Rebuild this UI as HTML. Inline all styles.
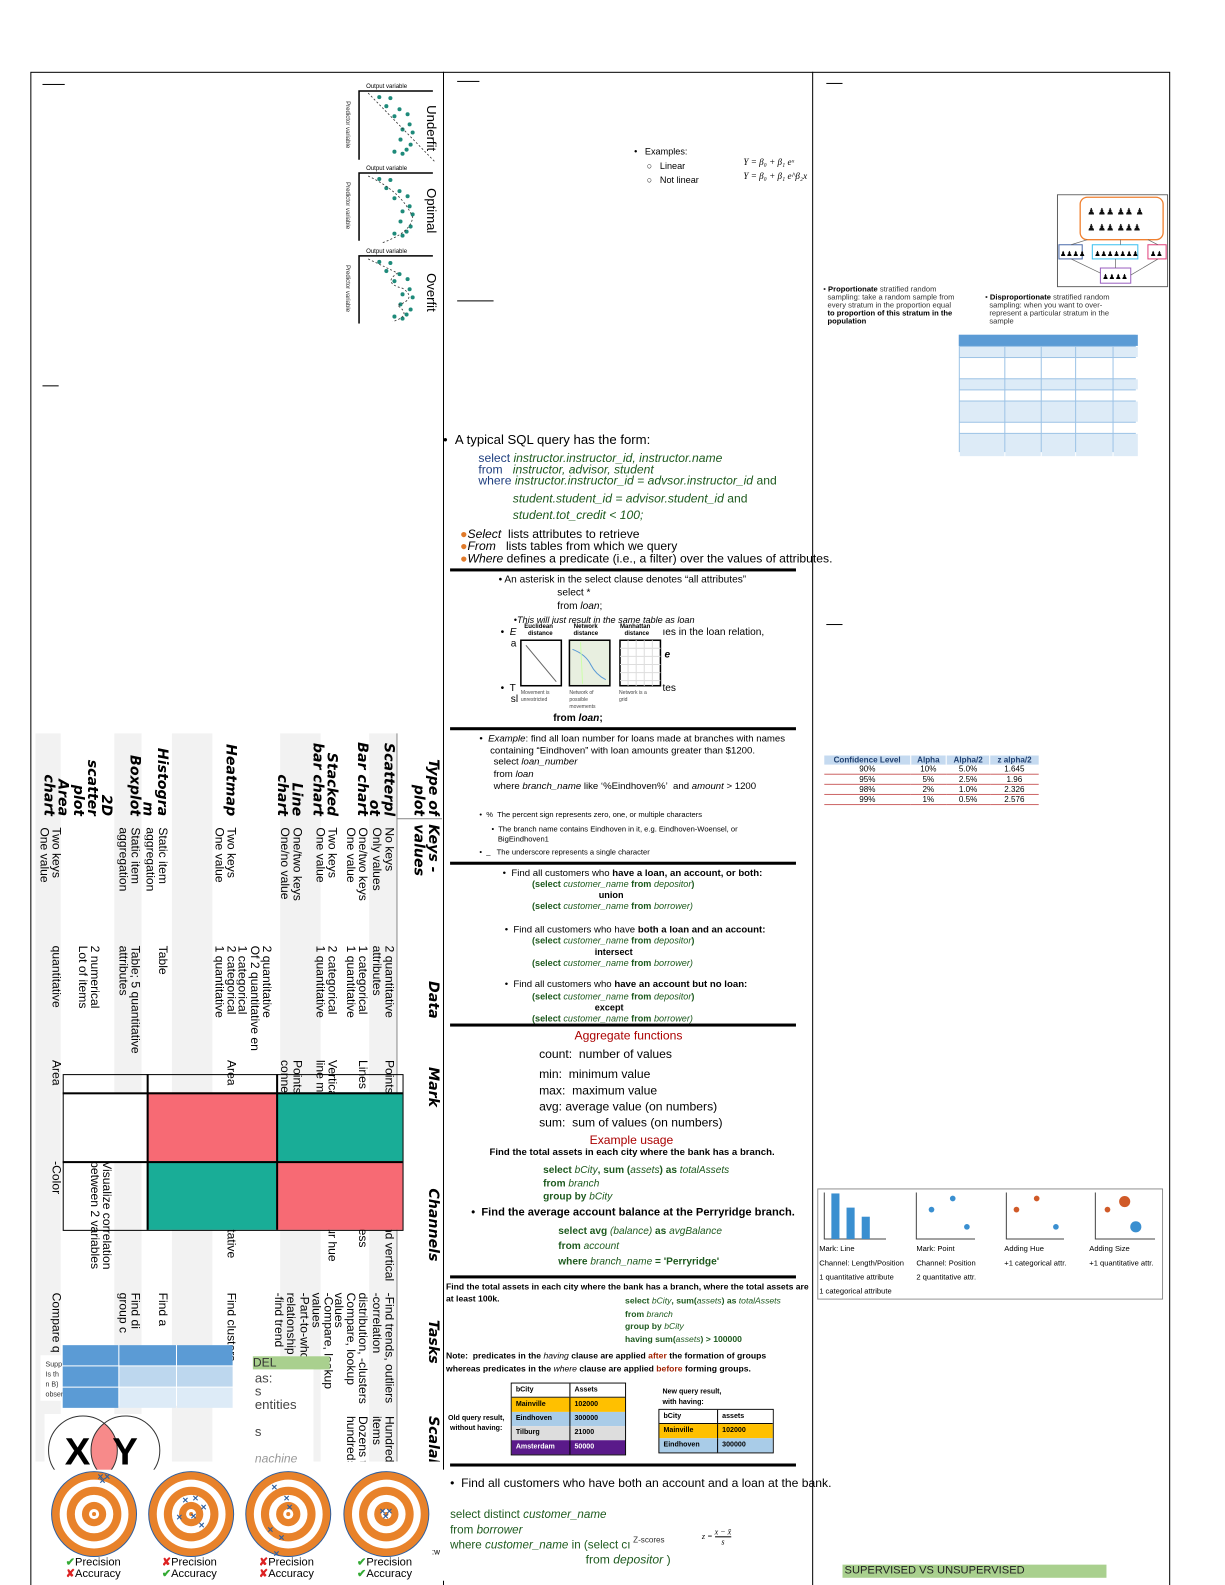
<!DOCTYPE html>
<html><head><meta charset="utf-8">
<style>
*{margin:0;padding:0;box-sizing:border-box}
html,body{margin:0;padding:0;background:#fff}
#o{position:relative;width:1225px;height:1585px;overflow:hidden;background:#fff}
#w{position:absolute;left:0;top:0;width:1225px;height:1585px;transform:scale(1.0114);transform-origin:0 0;background:#fff;font-family:"Liberation Sans",Arial,sans-serif;color:#000}
.a{position:absolute;white-space:nowrap}
.hl{position:absolute;background:#000;height:3px}
.g{color:#1e5a1e}
.b{color:#1f3f7f}
#rt{position:absolute;left:437px;top:725px;width:720px;height:402px;transform-origin:0 0;transform:rotate(90deg);overflow:hidden;font-family:"Liberation Sans Narrow","Liberation Sans",sans-serif;font-size:12px;line-height:12px}
#rt div{position:absolute;white-space:nowrap;overflow:hidden}
#rt .st{left:0;width:720px;background:#f2f2f2}
#rt .h{font-family:"DejaVu Sans",sans-serif;font-weight:bold;font-style:italic;font-size:14px;line-height:14px;text-align:right;left:0;width:82px}
#rt .hd{font-family:"DejaVu Sans",sans-serif;font-weight:bold;font-style:italic;font-size:14px;line-height:14px;top:2px}
.ctab{position:absolute;border-collapse:collapse;font-size:8px;line-height:9px;text-align:center}
.ctab td{border-bottom:1px solid #c66;padding:0 4px}
</style></head><body><div id="o"><div id="w">

<div style="position:absolute;left:30px;top:71px;width:1127px;height:1498px;border:1px solid #000"></div>
<div style="position:absolute;left:438px;top:71px;width:1px;height:1498px;background:#000"></div>
<div style="position:absolute;left:803px;top:71px;width:1px;height:1498px;background:#000"></div>

<div class="a" style="left:42px;top:83px;width:22px;height:1px;background:#000"></div>
<div class="a" style="left:42px;top:381px;width:16px;height:1px;background:#000"></div>
<div class="a" style="left:452px;top:80px;width:22px;height:1px;background:#000"></div>
<div class="a" style="left:452px;top:297px;width:36px;height:1px;background:#000"></div>
<div class="a" style="left:817px;top:82px;width:16px;height:1px;background:#000"></div>
<div class="a" style="left:817px;top:617px;width:16px;height:1px;background:#000"></div>

<svg class="a" style="left:338px;top:80px" width="100" height="240" viewBox="0 0 100 240" font-family="Liberation Sans" >
 <g font-size="6">
  <text x="24" y="7">Output variable</text>
  <text x="24" y="88">Output variable</text>
  <text x="24" y="170">Output variable</text>
 </g>
 <g stroke="#000" stroke-width="1.5" fill="none">
  <path d="M90 10 H17 V78"/><path d="M90 91 H17 V158"/><path d="M90 173 H17 V240"/>
 </g>
 <g font-size="6" fill="#333"><text transform="translate(4,20) rotate(90)">Predictor variable</text>
 <text transform="translate(4,100) rotate(90)">Predictor variable</text>
 <text transform="translate(4,182) rotate(90)">Predictor variable</text></g>
 <g fill="#1e8a7a">
  <circle cx="37" cy="16" r="2"/><circle cx="48" cy="17" r="2"/><circle cx="44" cy="25" r="2"/><circle cx="57" cy="28" r="2"/><circle cx="52" cy="35" r="2"/><circle cx="65" cy="33" r="2"/><circle cx="67" cy="43" r="2"/><circle cx="60" cy="48" r="2"/><circle cx="70" cy="51" r="2"/><circle cx="58" cy="58" r="2"/><circle cx="68" cy="63" r="2"/><circle cx="52" cy="70" r="2"/><circle cx="60" cy="72" r="2"/><circle cx="64" cy="68" r="2"/>
  <circle cx="37" cy="97" r="2"/><circle cx="48" cy="98" r="2"/><circle cx="44" cy="106" r="2"/><circle cx="57" cy="109" r="2"/><circle cx="52" cy="116" r="2"/><circle cx="65" cy="114" r="2"/><circle cx="67" cy="124" r="2"/><circle cx="60" cy="129" r="2"/><circle cx="70" cy="132" r="2"/><circle cx="58" cy="139" r="2"/><circle cx="68" cy="144" r="2"/><circle cx="52" cy="151" r="2"/><circle cx="60" cy="153" r="2"/><circle cx="64" cy="149" r="2"/>
  <circle cx="37" cy="179" r="2"/><circle cx="48" cy="180" r="2"/><circle cx="44" cy="188" r="2"/><circle cx="57" cy="191" r="2"/><circle cx="52" cy="198" r="2"/><circle cx="65" cy="196" r="2"/><circle cx="67" cy="206" r="2"/><circle cx="60" cy="211" r="2"/><circle cx="70" cy="214" r="2"/><circle cx="58" cy="221" r="2"/><circle cx="68" cy="226" r="2"/><circle cx="52" cy="233" r="2"/><circle cx="60" cy="235" r="2"/><circle cx="64" cy="231" r="2"/>
 </g>
 <g stroke="#333" stroke-dasharray="2,2" fill="none" stroke-width="0.8">
  <path d="M26 12 L92 80"/>
  <path d="M26 94 Q60 110 70 135 Q68 150 40 160"/>
  <path d="M26 176 Q45 185 55 190 Q40 200 60 205 Q75 215 55 222 Q70 232 50 238"/>
 </g>
 <g font-size="13"><text transform="translate(84,24) rotate(90)">Underfit</text>
 <text transform="translate(84,106) rotate(90)">Optimal</text>
 <text transform="translate(84,190) rotate(90)">Overfit</text></g>
</svg>

<div id="rt">
 <div class="st" style="top:45px;height:27px"></div>
 <div class="st" style="top:120px;height:40px"></div>
 <div class="st" style="top:227px;height:40px"></div>
 <div class="st" style="top:297px;height:27px"></div>
 <div class="st" style="top:377px;height:25px"></div>
 <div style="left:0;top:44px;width:720px;height:1px;background:#888"></div>
 <div style="left:84px;top:0;width:1px;height:45px;background:#888"></div>

 <div class="hd" style="left:0;width:82px;text-align:right">Type of<br>plot</div>
 <div class="hd" style="left:90px">Keys -<br>values</div>
 <div class="hd" style="left:245px">Data</div>
 <div class="hd" style="left:330px">Mark</div>
 <div class="hd" style="left:450px">Channels</div>
 <div class="hd" style="left:580px">Tasks</div>
 <div class="hd" style="left:675px">Scalability</div>

 <div class="h" style="top:46px">Scatterpl<br>ot</div>
 <div style="left:93px;top:46px">No keys<br>Only values</div>
 <div style="left:210px;top:46px">2 quantitative<br>attributes</div>
 <div style="left:323px;top:46px">Points</div>
 <div style="left:423px;top:46px">Horizontal and vertical</div>
 <div style="left:553px;top:46px">-Find trends, outliers<br>-correlation</div>
 <div style="left:675px;top:46px">Hundreds<br>items</div>

 <div class="h" style="top:72px">Bar chart</div>
 <div style="left:93px;top:72px">One/two keys<br>One value</div>
 <div style="left:210px;top:72px">1 categorical<br>1 quantitative</div>
 <div style="left:323px;top:72px">Lines</div>
 <div style="left:423px;top:72px">Length, express</div>
 <div style="left:553px;top:72px">distribution, -clusters<br>Compare, lookup<br>values</div>
 <div style="left:675px;top:72px">Dozens to<br>hundreds</div>

 <div class="h" style="top:102px">Stacked<br>bar chart</div>
 <div style="left:93px;top:102px">Two keys<br>One value</div>
 <div style="left:210px;top:102px">2 categorical<br>1 quantitative</div>
 <div style="left:323px;top:102px">Vertical<br>line marks</div>
 <div style="left:423px;top:102px">Length, colour hue<br>values</div>
 <div style="left:553px;top:106px">-Compare, lookup<br>values<br>-Part-to-whole</div>

 <div class="h" style="top:137px">Line<br>chart</div>
 <div style="left:93px;top:137px">One/two keys<br>One/no value</div>
 <div style="left:210px;top:167px">2 quantitative<br>Of 2 quantitative en<br>1 categorical</div>
 <div style="left:323px;top:137px">Points<br>connected</div>
 <div style="left:423px;top:137px">Positions<br>ordered</div>
 <div style="left:553px;top:143px">relationship<br>-find trend</div>

 <div class="h" style="top:202px">Heatmap</div>
 <div style="left:93px;top:202px">Two keys<br>One value</div>
 <div style="left:210px;top:202px">2 categorical<br>1 quantitative</div>
 <div style="left:323px;top:202px">Area</div>
 <div style="left:423px;top:202px">Color, quantitative</div>
 <div style="left:553px;top:202px">Find clusters</div>

 <div class="h" style="top:270px">Histogra<br>m</div>
 <div style="left:93px;top:270px">Static item<br>aggregation</div>
 <div style="left:210px;top:270px">Table</div>
 <div style="left:553px;top:270px">Find a</div>

 <div class="h" style="top:297px">Boxplot</div>
 <div style="left:93px;top:297px">Static item<br>aggregation</div>
 <div style="left:210px;top:297px">Table; 5 quantitative<br>attributes</div>
 <div style="left:553px;top:297px">Find di<br>group c</div>

 <div class="h" style="top:325px">2D<br>scatter<br>plot</div>
 <div style="left:210px;top:325px"><br>2 numerical<br>Lot of items</div>
 <div style="left:423px;top:325px">Visualize correlation<br>between 2 variables</div>

 <div class="h" style="top:368px">Area<br>chart</div>
 <div style="left:93px;top:375px">Two keys<br>One value</div>
 <div style="left:210px;top:375px">quantitative</div>
 <div style="left:323px;top:375px">Area</div>
 <div style="left:423px;top:375px">-Color</div>
 <div style="left:553px;top:375px">Compare q</div>
</div>

<div class="a" style="left:62px;top:1080px;width:83px;height:68px;background:#fff"></div>
<div class="a" style="left:145px;top:1080px;width:128px;height:68px;background:#f76a74"></div>
<div class="a" style="left:273px;top:1080px;width:125px;height:68px;background:#19ad97"></div>
<div class="a" style="left:145px;top:1148px;width:128px;height:68px;background:#19ad97"></div>
<div class="a" style="left:273px;top:1148px;width:125px;height:68px;background:#f76a74"></div>
<div class="a" style="left:62px;top:1062px;width:337px;height:155px;border:1.5px solid #000"></div>
<div class="a" style="left:62px;top:1080px;width:336px;height:1.5px;background:#000"></div>
<div class="a" style="left:62px;top:1148px;width:336px;height:1.5px;background:#000"></div>
<div class="a" style="left:145px;top:1062px;width:1.5px;height:154px;background:#000"></div>
<div class="a" style="left:273px;top:1062px;width:1.5px;height:154px;background:#000"></div>

<div class="a" style="left:40px;top:1340px;width:190px;height:45px;background:#fff"></div>
<div class="a" style="left:45px;top:1345px;font-size:7px;line-height:10px;color:#333">Supp<br>Is th<br>n B)<br>observations (A + B).</div>
<div class="a" style="left:62px;top:1330px;width:166px;height:60px;display:grid;grid-template-columns:55px 56px 55px;grid-template-rows:20px 20px 20px;gap:1px;background:#fff">
 <div style="background:#5b9bd5"></div><div style="background:#5b9bd5"></div><div style="background:#5b9bd5"></div>
 <div style="background:#5b9bd5"></div><div style="background:#bdd7ee"></div><div style="background:#bdd7ee"></div>
 <div style="background:#5b9bd5"></div><div style="background:#ddebf7"></div><div style="background:#ddebf7"></div>
</div>
<div class="a" style="left:250px;top:1341px;width:76px;height:13px;background:#a9d08e;font-size:12px;line-height:13px;color:#333">DEL</div>
<div class="a" style="left:250px;top:1354px;width:60px;height:95px;background:#fff"></div>
<div class="a" style="left:252px;top:1355px;font-size:13px;color:#444">as:</div>
<div class="a" style="left:252px;top:1368px;font-size:13px;color:#444">s</div>
<div class="a" style="left:252px;top:1381px;font-size:13px;color:#444">entities</div>
<div class="a" style="left:252px;top:1408px;font-size:13px;color:#444">s</div>
<div class="a" style="left:252px;top:1435px;font-size:12px;color:#999;font-style:italic">nachine</div>

<svg class="a" style="left:44px;top:1398px" width="120" height="64">
 <rect width="120" height="64" fill="#fff"/>
 <defs><clipPath id="cp"><circle cx="38" cy="36" r="34"/></clipPath></defs>
 <circle cx="80" cy="36" r="34" fill="#f78a8a" clip-path="url(#cp)"/>
 <circle cx="38" cy="36" r="34" fill="none" stroke="#333"/>
 <circle cx="80" cy="36" r="34" fill="none" stroke="#333"/>
 <text x="20" y="50" font-size="38" font-weight="bold" font-family="Liberation Sans">X</text>
 <text x="67" y="50" font-size="38" font-weight="bold" font-family="Liberation Sans">Y</text>
</svg>

<svg class="a" style="left:40px;top:1453px" width="400" height="110" font-family="Liberation Sans">
 <rect width="400" height="110" fill="#fff"/>
 <g transform="translate(53,44)"><circle r="42" fill="#e8822a" stroke="#2f5f9f" stroke-width="1"/><circle r="34" fill="#fff"/><circle r="27" fill="#e8822a"/><circle r="19" fill="#fff"/><circle r="12" fill="#e8822a"/><circle r="5" fill="#fff"/><circle r="2" fill="#e8822a"/></g>
 <g transform="translate(149,44)"><circle r="42" fill="#e8822a" stroke="#2f5f9f"/><circle r="34" fill="#fff"/><circle r="27" fill="#e8822a"/><circle r="19" fill="#fff"/><circle r="12" fill="#e8822a"/><circle r="5" fill="#fff"/><circle r="2" fill="#e8822a"/></g>
 <g transform="translate(245,44)"><circle r="42" fill="#e8822a" stroke="#2f5f9f"/><circle r="34" fill="#fff"/><circle r="27" fill="#e8822a"/><circle r="19" fill="#fff"/><circle r="12" fill="#e8822a"/><circle r="5" fill="#fff"/><circle r="2" fill="#e8822a"/></g>
 <g transform="translate(342,44)"><circle r="42" fill="#e8822a" stroke="#2f5f9f"/><circle r="34" fill="#fff"/><circle r="27" fill="#e8822a"/><circle r="19" fill="#fff"/><circle r="12" fill="#e8822a"/><circle r="5" fill="#fff"/><circle r="2" fill="#e8822a"/></g>
 <g fill="#2f5f9f" font-size="8" font-weight="bold">
  <text x="56" y="10">✕✕</text><text x="58" y="14">✕</text>
  <text x="140" y="33">✕</text><text x="150" y="31">✕</text><text x="158" y="40">✕</text><text x="134" y="50">✕</text><text x="148" y="49">✕</text><text x="156" y="58">✕</text>
  <text x="228" y="20">✕</text><text x="240" y="31">✕</text><text x="243" y="40">✕</text><text x="224" y="62">✕</text><text x="235" y="70">✕</text><text x="230" y="86">✕</text>
  <text x="335" y="44">✕✕</text><text x="338" y="49">✕</text>
 </g>
 <g font-size="11">
  <text x="25" y="95"><tspan fill="#3a3" font-weight="bold">✔</tspan>Precision</text><text x="25" y="106"><tspan fill="#d22" font-weight="bold">✘</tspan>Accuracy</text>
  <text x="120" y="95"><tspan fill="#d22" font-weight="bold">✘</tspan>Precision</text><text x="120" y="106"><tspan fill="#3a3" font-weight="bold">✔</tspan>Accuracy</text>
  <text x="216" y="95"><tspan fill="#d22" font-weight="bold">✘</tspan>Precision</text><text x="216" y="106"><tspan fill="#d22" font-weight="bold">✘</tspan>Accuracy</text>
  <text x="313" y="95"><tspan fill="#3a3" font-weight="bold">✔</tspan>Precision</text><text x="313" y="106"><tspan fill="#3a3" font-weight="bold">✔</tspan>Accuracy</text>
 </g>
</svg>
<div class="a" style="left:427px;top:1530px;font-size:8px">:w</div>

<div class="a" style="left:627px;top:143px;font-size:9px;line-height:14px">•&nbsp;&nbsp;&nbsp;Examples:<br>&nbsp;&nbsp;&nbsp;&nbsp;&nbsp;○&nbsp;&nbsp;&nbsp;Linear<br>&nbsp;&nbsp;&nbsp;&nbsp;&nbsp;○&nbsp;&nbsp;&nbsp;Not linear</div>
<div class="a" style="left:735px;top:153px;font-size:9px;font-family:'Liberation Serif',serif;font-style:italic;line-height:14px">Y = β₀ + β₁ eˣ<br>Y = β₀ + β₁ e^β₂x</div>

<div class="a" style="left:438px;top:427px;font-size:13px">•&nbsp;&nbsp;A typical SQL query has the form:</div>
<div class="a" style="left:473px;top:448px;font-size:12px;line-height:11px"><span class="b">select</span> <i class="g">instructor.instructor_id, instructor.name</i><br><span class="b">from</span>&nbsp;&nbsp; <i class="g">instructor, advisor, student</i><br><span class="b">where</span> <i class="g">instructor.instructor_id = advsor.instructor_id</i> <span class="g">and</span></div>
<div class="a g" style="left:507px;top:485px;font-size:12px;line-height:16px"><i>student.student_id = advisor.student_id</i> and<br><i>student.tot_credit &lt; 100;</i></div>
<div class="a" style="left:455px;top:522px;font-size:12px;line-height:12px"><span style="color:#e07a2a">●</span><i>Select</i>&nbsp; lists attributes to retrieve<br><span style="color:#e07a2a">●</span><i>From</i>&nbsp;&nbsp; lists tables from which we query<br><span style="color:#e07a2a">●</span><i>Where</i> defines a predicate (i.e., a filter) over the values of attributes.</div>
<div class="hl" style="left:445px;top:562px;width:342px"></div>

<div class="a" style="left:493px;top:567px;font-size:10px;line-height:13px">• An asterisk in the select clause denotes “all attributes”</div>
<div class="a" style="left:551px;top:580px;font-size:10px;line-height:13px">select *<br>from <i>loan</i>;</div>
<div class="a" style="left:508px;top:608px;font-size:9px;font-style:italic">•This will just result in the same table as loan</div>
<div class="a" style="left:495px;top:620px;font-size:10px">•&nbsp; <i>E</i></div>
<div class="a" style="left:505px;top:631px;font-size:10px">a</div>
<div class="a" style="left:655px;top:620px;font-size:10px">ıes in the loan relation,</div>
<div class="a" style="left:657px;top:642px;font-size:10px;font-weight:bold;font-style:italic">e</div>
<div class="a" style="left:495px;top:675px;font-size:10px">•&nbsp; T</div>
<div class="a" style="left:505px;top:686px;font-size:10px">sl</div>
<div class="a" style="left:655px;top:675px;font-size:10px">tes</div>
<div class="a" style="left:547px;top:705px;font-size:10px;font-weight:bold">from <i>loan</i>;</div>
<div class="a" style="left:515px;top:617px;font-size:6px;font-weight:bold;text-align:center;line-height:7px;background:#fff">&nbsp;&nbsp;Euclidean<br>&nbsp;&nbsp;&nbsp;&nbsp;distance</div>
<div class="a" style="left:567px;top:617px;font-size:6px;font-weight:bold;text-align:center;line-height:7px;background:#fff">Network<br>distance</div>
<div class="a" style="left:613px;top:617px;font-size:6px;font-weight:bold;text-align:center;line-height:7px;background:#fff">Manhattan<br>&nbsp;&nbsp;distance</div>
<svg class="a" style="left:514px;top:632px" width="142" height="48">
 <rect x="1" y="1" width="40" height="45" fill="#fff" stroke="#000" stroke-width="1.5"/>
 <line x1="6" y1="6" x2="36" y2="42" stroke="#666"/>
 <rect x="49" y="1" width="40" height="45" fill="#e8efe0" stroke="#000" stroke-width="1.5"/>
 <path d="M52 10 Q65 15 70 25 T85 40" stroke="#5a9ad5" fill="none"/><path d="M60 3 L62 44" stroke="#cfa" />
 <rect x="99" y="1" width="40" height="45" fill="#fff" stroke="#000" stroke-width="1.5"/>
 <g stroke="#ddd"><path d="M99 9H139M99 17H139M99 25H139M99 33H139M99 41H139M107 1V46M115 1V46M123 1V46M131 1V46"/></g>
</svg>
<div class="a" style="left:515px;top:682px;font-size:5px;line-height:7px;color:#444">Movement is<br>unrestricted</div>
<div class="a" style="left:563px;top:682px;font-size:5px;line-height:7px;color:#444">Network of<br>possible<br>movements</div>
<div class="a" style="left:612px;top:682px;font-size:5px;line-height:7px;color:#444">Network is a<br>grid</div>
<div class="hl" style="left:445px;top:719px;width:342px"></div>

<div class="a" style="left:474px;top:725px;font-size:9.5px;line-height:12px">•&nbsp; <i>Example</i>: find all loan number for loans made at branches with names<br>&nbsp;&nbsp;&nbsp;&nbsp;containing “Eindhoven” with loan amounts greater than $1200.</div>
<div class="a" style="left:488px;top:748px;font-size:9.5px;line-height:12px">select <i>loan_number</i><br>from <i>loan</i><br>where <i>branch_name</i> like ‘%Eindhoven%’&nbsp; and <i>amount</i> &gt; 1200</div>
<div class="a" style="left:474px;top:801px;font-size:7.5px;line-height:10px">•&nbsp; %&nbsp; The percent sign represents zero, one, or multiple characters</div>
<div class="a" style="left:486px;top:815px;font-size:7.5px;line-height:10px">•&nbsp; The branch name contains Eindhoven in it, e.g. Eindhoven-Woensel, or<br>&nbsp;&nbsp;&nbsp;BigEindhoven1</div>
<div class="a" style="left:474px;top:838px;font-size:7.5px;line-height:10px">•&nbsp; _&nbsp;&nbsp; The underscore represents a single character</div>
<div class="hl" style="left:445px;top:852px;width:342px"></div>

<div class="a" style="left:497px;top:858px;font-size:9.5px;line-height:11px">•&nbsp; Find all customers who <b>have a loan, an account, or both:</b></div>
<div class="a g" style="left:526px;top:869px;font-size:9px;line-height:11px;font-weight:bold">(select <i style="font-weight:normal">customer_name</i> from <i style="font-weight:normal">depositor</i>)<br><span style="padding-left:66px;color:#000">union</span><br>(select <i style="font-weight:normal">customer_name</i> from <i style="font-weight:normal">borrower)</i></div>
<div class="a" style="left:499px;top:914px;font-size:9.5px;line-height:11px">•&nbsp; Find all customers who have <b>both a loan and an account:</b></div>
<div class="a g" style="left:526px;top:925px;font-size:9px;line-height:11px;font-weight:bold">(select <i style="font-weight:normal">customer_name</i> from <i style="font-weight:normal">depositor</i>)<br><span style="padding-left:62px;color:#000">intersect</span><br>(select <i style="font-weight:normal">customer_name</i> from <i style="font-weight:normal">borrower)</i></div>
<div class="a" style="left:499px;top:968px;font-size:9.5px;line-height:11px">•&nbsp; Find all customers who <b>have an account but no loan:</b></div>
<div class="a g" style="left:526px;top:980px;font-size:9px;line-height:11px;font-weight:bold">(select <i style="font-weight:normal">customer_name</i> from <i style="font-weight:normal">depositor</i>)<br><span style="padding-left:62px;color:#000">except</span><br>(select <i style="font-weight:normal">customer_name</i> from <i style="font-weight:normal">borrower)</i></div>
<div class="hl" style="left:445px;top:1012px;width:342px"></div>

<div class="a" style="left:568px;top:1017px;font-size:12px;color:#a00">Aggregate functions</div>
<div class="a" style="left:533px;top:1034px;font-size:12px;line-height:16px">count:&nbsp; number of values</div>
<div class="a" style="left:533px;top:1054px;font-size:12px;line-height:16px">min:&nbsp; minimum value<br>max:&nbsp; maximum value<br>avg: average value (on numbers)<br>sum:&nbsp; sum of values (on numbers)</div>
<div class="a" style="left:583px;top:1120px;font-size:12px;color:#a00">Example usage</div>
<div class="a" style="left:484px;top:1134px;font-size:9.5px;font-weight:bold">Find the total assets in each city where the bank has a branch.</div>
<div class="a g" style="left:537px;top:1151px;font-size:10px;line-height:13px;font-weight:bold">select <i style="font-weight:normal">bCity</i>, sum (<i style="font-weight:normal">assets</i>) as <i style="font-weight:normal">totalAssets</i><br>from <i style="font-weight:normal">branch</i><br>group by <i style="font-weight:normal">bCity</i></div>
<div class="a" style="left:466px;top:1193px;font-size:11px;font-weight:bold">•&nbsp;&nbsp;Find the average account balance at the Perryridge branch.</div>
<div class="a g" style="left:552px;top:1210px;font-size:10px;line-height:15px;font-weight:bold">select avg <i style="font-weight:normal">(balance)</i> as <i style="font-weight:normal">avgBalance</i><br>from <i style="font-weight:normal">account</i><br>where <i style="font-weight:normal">branch_name</i> = 'Perryridge'</div>
<div class="hl" style="left:445px;top:1261px;width:342px"></div>

<div class="a" style="left:441px;top:1266px;font-size:8.5px;line-height:12px;font-weight:bold">Find the total assets in each city where the bank has a branch, where the total assets are<br>at least 100k.</div>
<div class="a g" style="left:618px;top:1280px;font-size:8.5px;line-height:12.5px;font-weight:bold">select <i style="font-weight:normal">bCity</i>, sum(<i style="font-weight:normal">assets</i>) as <i style="font-weight:normal">totalAssets</i><br>from <i style="font-weight:normal">branch</i><br>group by <i style="font-weight:normal">bCity</i></div>
<div class="a g" style="left:618px;top:1319px;font-size:8.5px;font-weight:bold">having sum(<i style="font-weight:normal">assets</i>) &gt; 100000</div>
<div class="a" style="left:441px;top:1334px;font-size:8.5px;line-height:13px;font-weight:bold">Note:&nbsp; predicates in the <i style="font-weight:normal">having</i> clause are applied <span style="color:#a02000">after</span> the formation of groups<br>whereas predicates in the <i style="font-weight:normal">where</i> clause are applied <span style="color:#a02000">before</span> forming groups.</div>
<div class="a" style="left:443px;top:1398px;font-size:7px;line-height:10px;font-weight:bold;text-align:center">Old query result,<br>without having:</div>
<div class="a" style="left:505px;top:1367px;width:114px;font-size:7px;font-weight:bold;border:1px solid #000">
 <div style="display:flex;height:14px;line-height:14px;background:#fff;border-bottom:1px solid #000"><span style="width:58px;padding-left:4px;border-right:1px solid #000">bCity</span><span style="padding-left:4px">Assets</span></div>
 <div style="display:flex;height:14px;line-height:14px;background:#ffc000"><span style="width:58px;padding-left:4px;border-right:1px solid #000">Mainville</span><span style="padding-left:4px">102000</span></div>
 <div style="display:flex;height:14px;line-height:14px;background:#a9cce8"><span style="width:58px;padding-left:4px;border-right:1px solid #000">Eindhoven</span><span style="padding-left:4px">300000</span></div>
 <div style="display:flex;height:14px;line-height:14px;background:#ddd"><span style="width:58px;padding-left:4px;border-right:1px solid #000">Tilburg</span><span style="padding-left:4px">21000</span></div>
 <div style="display:flex;height:14px;line-height:14px;background:#5a1a8a;color:#fff"><span style="width:58px;padding-left:4px;border-right:1px solid #000">Amsterdam</span><span style="padding-left:4px">50000</span></div>
</div>
<div class="a" style="left:655px;top:1372px;font-size:7px;line-height:10px;font-weight:bold">New query result,<br>with having:</div>
<div class="a" style="left:651px;top:1393px;width:114px;font-size:7px;font-weight:bold;border:1px solid #000">
 <div style="display:flex;height:14px;line-height:14px;background:#fff;border-bottom:1px solid #000"><span style="width:58px;padding-left:4px;border-right:1px solid #000">bCity</span><span style="padding-left:4px">assets</span></div>
 <div style="display:flex;height:14px;line-height:14px;background:#ffc000"><span style="width:58px;padding-left:4px;border-right:1px solid #000">Mainville</span><span style="padding-left:4px">102000</span></div>
 <div style="display:flex;height:14px;line-height:14px;background:#a9cce8"><span style="width:58px;padding-left:4px;border-right:1px solid #000">Eindhoven</span><span style="padding-left:4px">300000</span></div>
</div>
<div class="hl" style="left:445px;top:1447px;width:342px"></div>

<div class="a" style="left:445px;top:1459px;font-size:12px">•&nbsp;&nbsp;Find all customers who have both an account and a loan at the bank.</div>
<div class="a g" style="left:445px;top:1491px;font-size:11.5px;line-height:15px">select distinct <i>customer_name</i><br>from <i>borrower</i><br>where <i>customer_name</i> in (select cı</div>
<div class="a g" style="left:579px;top:1535px;font-size:12px">from <i>depositor</i> )</div>
<div class="a" style="left:626px;top:1518px;font-size:8px;color:#333">Z-scores</div>
<div class="a" style="left:694px;top:1510px;font-size:8px;font-family:'Liberation Serif',serif;font-style:italic;line-height:10px">z = <span style="display:inline-block;text-align:center;vertical-align:middle"><span style="border-bottom:1px solid #000">x − x̄</span><br>s</span></div>

<svg class="a" style="left:1045px;top:192px" width="110" height="92">
 <rect x="0.5" y="0.5" width="109" height="91" fill="#fff" stroke="#555"/>
 <rect x="23" y="3" width="82" height="42" rx="7" fill="#fff" stroke="#f08030" stroke-width="1.3"/>
 <g font-size="9" fill="#111"><text x="30" y="20">♟ ♟♟ ♟♟ ♟</text><text x="30" y="36">♟ ♟♟ ♟♟♟</text></g>
 <rect x="2" y="50" width="23" height="14" fill="#fff" stroke="#4a6aaa"/><text x="3" y="61" font-size="7">♟♟♟♟</text>
 <rect x="35" y="50" width="45" height="14" fill="#fff" stroke="#3ac0f0"/><text x="37" y="61" font-size="7">♟♟♟♟♟♟♟</text>
 <rect x="90" y="50" width="18" height="14" fill="#fff" stroke="#e0407a"/><text x="92" y="61" font-size="7">♟♟</text>
 <rect x="43" y="73" width="30" height="15" fill="#fff" stroke="#9a60c0"/><text x="45" y="84" font-size="7">♟♟♟♟</text>
 <path d="M30 45 L14 50 M63 45 V50 M90 45 L100 50 M14 64 L43 78 M58 64 V73 M100 64 L73 80" stroke="#666" stroke-width="0.7" fill="none"/>
</svg>
<div class="a" style="left:814px;top:282px;font-size:7.5px;line-height:8px;color:#333">• <b style="color:#000">Proportionate</b> stratified random<br>&nbsp;&nbsp;sampling: take a random sample from<br>&nbsp;&nbsp;every stratum in the proportion equal<br>&nbsp;&nbsp;<b style="color:#000">to proportion of this stratum in the<br>&nbsp;&nbsp;population</b></div>
<div class="a" style="left:974px;top:290px;font-size:7.5px;line-height:8px;color:#333">• <b style="color:#000">Disproportionate</b> stratified random<br>&nbsp;&nbsp;sampling: when you want to over-<br>&nbsp;&nbsp;represent a particular stratum in the<br>&nbsp;&nbsp;sample</div>
<div class="a" style="left:948px;top:331px;width:175px;height:116px;background:#9dc3e6;display:grid;grid-template-columns:44px 35px 33px 36px 24px;grid-template-rows:11px 10px 20px 10px 10px 20px 10px 22px;gap:1px;padding-left:1px">
 <div style="grid-column:1/6;background:#5b9bd5;margin-left:-1px"></div>
 <div style="background:#ddebf7"></div><div style="background:#ddebf7"></div><div style="background:#ddebf7"></div><div style="background:#ddebf7"></div><div style="background:#ddebf7"></div>
 <div style="background:#fff"></div><div style="background:#fff"></div><div style="background:#fff"></div><div style="background:#fff"></div><div style="background:#fff"></div>
 <div style="background:#ddebf7"></div><div style="background:#ddebf7"></div><div style="background:#ddebf7"></div><div style="background:#ddebf7"></div><div style="background:#ddebf7"></div>
 <div style="background:#fff"></div><div style="background:#fff"></div><div style="background:#fff"></div><div style="background:#fff"></div><div style="background:#fff"></div>
 <div style="background:#ddebf7"></div><div style="background:#ddebf7"></div><div style="background:#ddebf7"></div><div style="background:#ddebf7"></div><div style="background:#ddebf7"></div>
 <div style="background:#fff"></div><div style="background:#fff"></div><div style="background:#fff"></div><div style="background:#fff"></div><div style="background:#fff"></div>
 <div style="background:#ddebf7"></div><div style="background:#ddebf7"></div><div style="background:#ddebf7"></div><div style="background:#ddebf7"></div><div style="background:#ddebf7"></div>
</div>

<table class="ctab" style="left:815px;top:747px;width:212px">
 <tr style="background:#c5daf0;font-weight:bold;color:#1f3f6f"><td style="border:none;border-right:1px solid #fff">Confidence Level</td><td style="border:none;border-right:1px solid #fff">Alpha</td><td style="border:none;border-right:1px solid #fff">Alpha/2</td><td style="border:none">z alpha/2</td></tr>
 <tr><td>90%</td><td>10%</td><td>5.0%</td><td>1.645</td></tr>
 <tr><td>95%</td><td>5%</td><td>2.5%</td><td>1.96</td></tr>
 <tr><td>98%</td><td>2%</td><td>1.0%</td><td>2.326</td></tr>
 <tr><td>99%</td><td>1%</td><td>0.5%</td><td>2.576</td></tr>
</table>

<svg class="a" style="left:808px;top:1175px" width="342" height="110" font-family="Liberation Sans" font-size="7.5">
 <rect x="0.5" y="0.5" width="341" height="109" fill="#fff" stroke="#888"/>
 <g stroke="#444" fill="none" stroke-width="1"><path d="M7 4V50H68M98 4V50H156M187 4V50H244M275 4V50H334"/></g>
 <g fill="#3a8fd0"><rect x="14" y="5" width="8" height="45"/><rect x="29" y="19" width="8" height="31"/><rect x="44" y="28" width="8" height="22"/>
 <circle cx="113" cy="21" r="2.8"/><circle cx="134" cy="10" r="2.8"/><circle cx="148" cy="38" r="2.8"/>
 <circle cx="236" cy="38" r="2.8"/><circle cx="315" cy="38" r="5.5"/></g>
 <g fill="#d05a28"><circle cx="197" cy="21" r="2.8"/><circle cx="217" cy="10" r="2.8"/><circle cx="287" cy="21" r="2.8"/><circle cx="304" cy="13" r="5.5"/></g>
 <text x="2" y="62">Mark: Line</text><text x="2" y="76">Channel: Length/Position</text><text x="2" y="90">1 quantitative attribute</text><text x="2" y="104">1 categorical attribute</text>
 <text x="98" y="62">Mark: Point</text><text x="98" y="76">Channel: Position</text><text x="98" y="90">2 quantitative attr.</text>
 <text x="185" y="62">Adding Hue</text><text x="185" y="76">+1 categorical attr.</text>
 <text x="269" y="62">Adding Size</text><text x="269" y="76">+1 quantitative attr.</text>
</svg>

<div class="a" style="left:833px;top:1547px;width:261px;height:13px;background:#a9d08e;font-size:11px;line-height:13px;color:#222;padding-left:2px">SUPERVISED VS UNSUPERVISED</div>

</div></div></body></html>
